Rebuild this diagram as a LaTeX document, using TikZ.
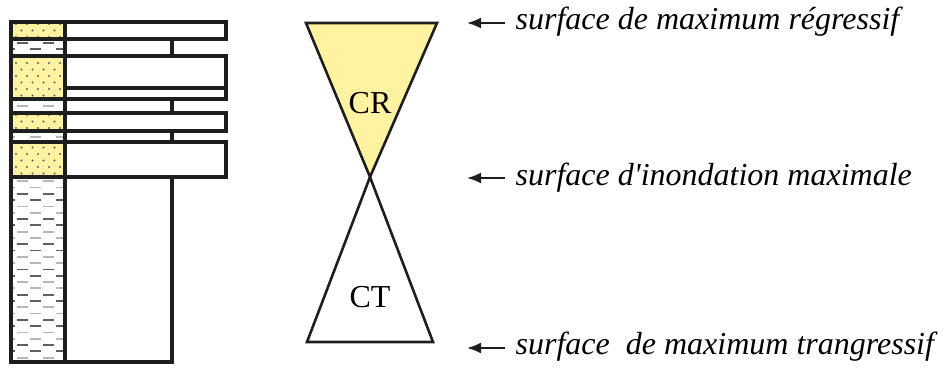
\documentclass[tikz,border=0pt]{standalone}
\usepackage{fontspec}
\setmainfont{Liberation Serif}
\usetikzlibrary{arrows.meta,positioning,calc}
\definecolor{sable}{RGB}{255, 242, 160}
\definecolor{trait}{RGB}{30, 30, 30}
\definecolor{gris}{RGB}{95, 95, 95}
\colorlet{grisclair}{gris!45}

\begin{document}
\begin{tikzpicture}[x=1pt,y=-1pt,>={Latex[length=14pt,width=11pt]},
    couche/.style={draw=trait,line width=3.6pt},
    etiquette/.style={font=\fontsize{32}{36}\selectfont\itshape,inner sep=10.5pt},
    cortege/.style={font=\fontsize{32}{36}\selectfont,inner sep=0pt}]
        \useasboundingbox (0,0) rectangle (948,376);
        % sable
        \foreach \ya/\yb in {22/39,56/99,113/131,142/177}
          \fill[sable] (11,\ya) rectangle (65,\yb);
        \begin{scope}
          \clip (11,22) rectangle (65,39) (11,56) rectangle (65,99)
                (11,113) rectangle (65,131) (11,142) rectangle (65,177);
          \foreach \i in {0,...,24}{
            \pgfmathsetmacro\yy{24+\i*6.5}
            \pgfmathsetmacro\dx{mod(\i,2)*5.5}
            \foreach \x in {5,16,...,71}
              \fill[gris] (\x+\dx,\yy) circle (1.1);
          }
        \end{scope}
        % argile
        \begin{scope}
          \clip (11,39) rectangle (65,56) (11,99) rectangle (65,113)
                (11,131) rectangle (65,142) (11,177) rectangle (65,362);
          \foreach \i in {0,...,52}{
            \pgfmathsetmacro\yy{30+\i*6.3}
            \pgfmathsetmacro\dx{mod(\i,2)*13}
            \pgfmathtruncatemacro\ton{mod(floor(\i/2),2)}
            \ifnum\ton=0 \def\col{grisclair}\else\def\col{gris}\fi
            \foreach \x in {-9,17,...,69}
              \draw[\col,line width=1.8pt] (\x+\dx,\yy) -- ++(11,0);
          }
        \end{scope}
        % barres
        \foreach \ya/\yb in {22/39,56/88,88/99,113/131,142/177}
          \draw[couche] (65,\ya) rectangle (226,\yb);
        \foreach \ya/\yb in {39/56,99/113,131/142,177/362}
          \draw[couche] (65,\ya) rectangle (172,\yb);
        \draw[couche] (11,22) rectangle (65,362);
        \foreach \y in {39,56,99,113,131,142,177}
          \draw[couche] (11,\y) -- (65,\y);
        % sablier
        \filldraw[fill=sable,draw=trait,line width=2.6pt,line join=miter]
          (306,23) -- (437,23) -- (370,177) -- cycle;
        \draw[trait,line width=2.6pt,line join=miter]
          (370,177) -- (433,342) -- (307,342) -- cycle;
        \node[cortege] (cr) at (370,103) {CR};
        \node[cortege] (ct) at (370,297) {CT};
        % surfaces
        \node[etiquette,anchor=base west] (smr) at (505,29) {surface de maximum régressif};
        \node[etiquette,anchor=base west] (sim) at (505,185) {surface d\textquotesingle inondation maximale};
        \node[etiquette,anchor=base west] (smt) at (505,354) {surface\ \ de maximum trangressif};
        \coordinate (pmr) at (467,23);
        \coordinate (pim) at (467,178);
        \coordinate (pmt) at (467,348);
        \draw[->,trait,line width=2pt] (smr.west |- pmr) -- (pmr);
        \draw[->,trait,line width=2pt] (sim.west |- pim) -- (pim);
        \draw[->,trait,line width=2pt] (smt.west |- pmt) -- (pmt);
      \end{tikzpicture}
\end{document}
